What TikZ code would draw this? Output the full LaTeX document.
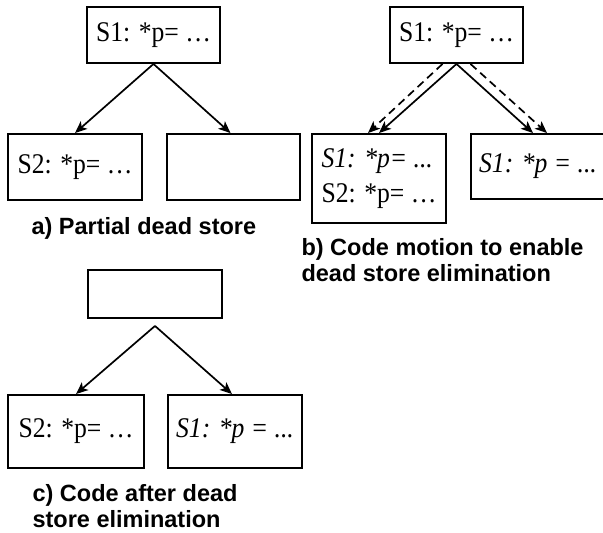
\documentclass[tikz,border=0pt]{standalone}
\usepackage{fontspec}
\setmainfont[FakeStretch=0.9]{Liberation Serif}
\setsansfont{Liberation Sans}
\usetikzlibrary{arrows.meta}

\begin{document}
\begin{tikzpicture}[x=1pt, y=-1pt,
  block/.style={draw, line width=1.9pt, inner sep=0pt, align=left,
    font=\fontsize{28.5}{35}\selectfont},
  caption/.style={anchor=base west, align=left,
    font=\sffamily\bfseries\fontsize{23.5}{26}\selectfont},
  arr/.style={-{Stealth[length=12pt,width=10pt,inset=3pt]}, line width=1.7pt},
  darr/.style={arr, dash pattern=on 8pt off 5pt},
]
\useasboundingbox (0,0) rectangle (603,533);

% a) partial dead store
\node[block, minimum width=133pt, minimum height=56pt] at (153.5,35)  (aTop)   {S1: *p= …};
\node[block, minimum width=134pt, minimum height=66pt] at (75,167)    (aLeft)  {S2: *p= …};
\node[block, minimum width=133pt, minimum height=66pt] at (233.5,167) (aRight) {};
\node[caption] at (28,234) (aCap) {a) Partial dead store};

\draw[arr] (aTop.south) -- (aLeft.north);
\draw[arr] (aTop.south) -- ([xshift=-3pt]aRight.north);

% b) code motion
\node[block, minimum width=133pt, minimum height=56pt] at (456.5,35)  (bTop)   {S1: *p= …};
\node[block, minimum width=134pt, minimum height=89pt] at (379,178.5) (bLeft)  {\itshape S1: *p= ...\\S2: *p= …};
\node[block, minimum width=134pt, minimum height=65pt] at (538,166.5) (bRight) {\itshape S1: *p = ...};
\node[caption] at (298,281) (bCap) {b) Code motion to enable\\dead store elimination};

\draw[arr]  (bTop.south) -- (bLeft.north);
\draw[arr]  (bTop.south) -- ([xshift=-5pt]bRight.north);
\draw[darr] ([xshift=-14pt]bTop.south) -- ([xshift=-11pt]bLeft.north);
\draw[darr] ([xshift=14pt]bTop.south) -- ([xshift=9pt]bRight.north);

% c) after elimination
\node[block, minimum width=134pt, minimum height=48pt] at (155,294)   (cTop)   {};
\node[block, minimum width=136pt, minimum height=73pt] at (76,431.5)  (cLeft)  {S2: *p= …};
\node[block, minimum width=134pt, minimum height=73pt] at (235,431.5) (cRight) {\itshape S1: *p = ...};
\node[caption] at (29,527) (cCap) {c) Code after dead\\store elimination};

\draw[arr] ([yshift=-7pt]cTop.south) -- (cLeft.north);
\draw[arr] ([yshift=-7pt]cTop.south) -- ([xshift=-3pt]cRight.north);
\end{tikzpicture}
\end{document}
